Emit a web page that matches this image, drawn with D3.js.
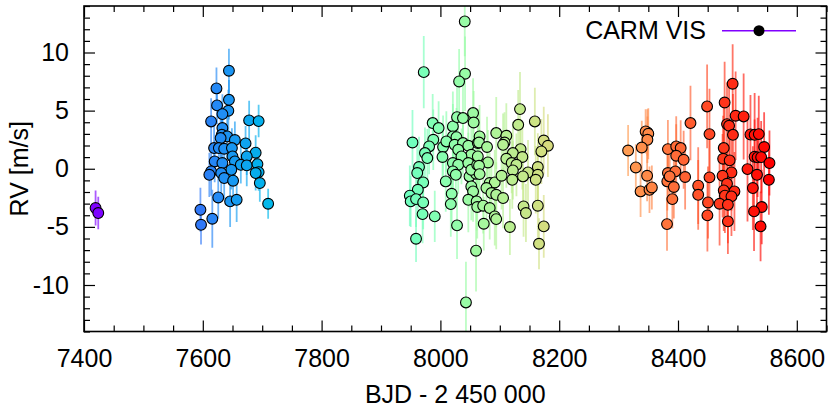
<!DOCTYPE html>
<html>
<head>
<meta charset="utf-8">
<script src="https://cdnjs.cloudflare.com/ajax/libs/d3/7.8.5/d3.min.js"></script>
<style>
  html, body { margin: 0; padding: 0; background: #fff; }
  svg { display: block; font-family: "Liberation Sans", Arial, Helvetica, sans-serif; }
  .axis text { font-size: 25px; fill: #000; }
  .axis path { display: none; }
  .axis line { stroke: #000; stroke-width: 1.2; }
</style>
</head>
<body>
<svg></svg>
<script>
// CARMENES VIS radial velocities, one array per observing season: [BJD - 2450000, RV (m/s), error (m/s)]
const season2016a = [
    [7419.5, -3.38, 1.5], [7424, -3.81, 1.4]
];
const season2016b = [
    [7644, 8.43, 1.9], [7623, 6.91, 1.8], [7644, 5.93, 1.7], [7624, 5.45, 1.6], [7643, 4.99, 1.8],
    [7633, 4.70, 1.7], [7614, 4.07, 2.0], [7678, 4.16, 1.7], [7694, 4.10, 1.4], [7633, 3.50, 1.6],
    [7632, 2.92, 1.5], [7641, 2.78, 1.9], [7654, 2.47, 1.6], [7630, 2.64, 1.7], [7672, 2.18, 1.5],
    [7619, 1.78, 2.0], [7627, 1.78, 1.6], [7636, 1.72, 1.8], [7649, 1.78, 1.7], [7689, 1.38, 1.5],
    [7650, 1.06, 2.0], [7674, 1.06, 1.6], [7620, 0.63, 1.8], [7633, 0.49, 1.7], [7654, 0.63, 1.9],
    [7664, 0.34, 1.6], [7674, 0.29, 1.8], [7692, 0.40, 1.5], [7648, -0.09, 1.7], [7614, -0.23, 2.1],
    [7611, -0.52, 1.9], [7694, -0.29, 1.6], [7631, -0.37, 1.7], [7636, -0.80, 1.8], [7689, -0.37, 1.5],
    [7651, -1.03, 1.9], [7696, -1.23, 1.6], [7626, -2.47, 1.8], [7646, -2.81, 2.2], [7657, -2.67, 1.9],
    [7710, -3.01, 1.3], [7596, -3.53, 1.9], [7616, -4.30, 2.5], [7597, -4.82, 1.7]
];
const season2017 = [
    [8041, 12.67, 3.0], [7972, 8.31, 3.1], [8041.5, 8.17, 3.2], [8031.5, 7.51, 2.8], [7987, 3.93, 2.5],
    [7997, 3.50, 2.3], [7953, 2.26, 2.8], [7988, 2.49, 2.6], [7981, 1.92, 2.4], [7974, 1.35, 2.2],
    [7978, 0.92, 2.5], [8004.5, 1.87, 2.7], [8003.5, 1.01, 2.4], [7964, 0.15, 2.6], [7961, -0.37, 2.3],
    [7971, -1.18, 2.5], [7962, -1.81, 2.4], [7948.5, -2.32, 2.6], [7950, -2.81, 2.2], [7959, -2.61, 2.4],
    [7971, -2.90, 2.3], [7970, -3.90, 2.5], [7990.5, -4.10, 2.2], [7959, -6.02, 2.0], [8009, -1.09, 2.6],
    [8019, -2.15, 2.5], [8017.5, -3.04, 2.8], [8028, -4.87, 2.9], [8060, -7.05, 3.5], [8043, -11.5, 3.5],
    [8021, 3.64, 3.0], [8028, 4.44, 3.2], [8038, 4.36, 2.9], [8055, 4.79, 3.0], [8056, 3.98, 2.7],
    [8021, 2.78, 2.8], [8027, 2.72, 2.5], [8010, 2.35, 2.6], [8024, 2.06, 2.4], [8038, 2.21, 2.7],
    [8030, 1.63, 2.5], [8047, 1.98, 2.8], [8052, 1.20, 2.6], [8035.5, 1.06, 2.4], [8021, 0.49, 2.7],
    [8030, 0.34, 2.5], [8047, 0.49, 2.6], [8063, 2.21, 2.8], [8021, -0.23, 2.5], [8026, -0.52, 2.8],
    [8049, -0.66, 2.6], [8060, -0.43, 2.7], [8052, -1.52, 2.9], [8055, -1.95, 2.6], [8047, -2.67, 2.8],
    [8061, -2.81, 2.5], [8062, -3.29, 2.7], [8052, -0.09, 2.5], [8062, 0.34, 2.6], [8063, 1.06, 2.4],
    [8066, 2.78, 2.7], [8065, 2.26, 2.9], [8078.5, 1.87, 2.6], [8080, 0.54, 2.8], [8065, 0.26, 2.5],
    [8066, -0.46, 2.7], [8083, -1.23, 2.6], [8091.5, -1.18, 2.8], [8103, -0.60, 2.9], [8077.5, -1.66, 2.7],
    [8086, -2.09, 2.5], [8094, -2.24, 2.8], [8105.5, -2.52, 2.6], [8072, -3.18, 2.4], [8083, -3.38, 2.7],
    [8091.5, -4.10, 2.5], [8094, -4.33, 2.6], [8073, -4.73, 2.3], [8117, -5.01, 2.4], [8134, 5.13, 3.2],
    [8131, 3.78, 3.0], [8159, 4.07, 2.9], [8094, 3.07, 3.1], [8111, 2.84, 2.8], [8108, 2.26, 2.6],
    [8105.5, 2.06, 2.7], [8174, 2.43, 2.9], [8181, 1.98, 2.7], [8170, 1.49, 2.8], [8135, 1.69, 2.6],
    [8122, 1.35, 2.7], [8111, 0.86, 2.5], [8138, 1.01, 2.8], [8120, 0.49, 2.6], [8128, 0.34, 2.7],
    [8164, 0.15, 2.9], [8122, -0.14, 2.5], [8147.5, -0.32, 2.8], [8164, -0.52, 2.6], [8139, -0.66, 2.7],
    [8121, -0.95, 2.5], [8160.5, -0.95, 2.9], [8140, -3.24, 2.6], [8144, -3.81, 2.5], [8164, -3.18, 2.8],
    [8174, -4.96, 2.7], [8166, -6.45, 2.2]
];
const season2018 = [
    [8421, 3.93, 3.2], [8348.5, 3.12, 2.0], [8345.5, 3.21, 1.9], [8350, 3.01, 2.2], [8348.5, 2.49, 2.0],
    [8339, 1.83, 2.3], [8316, 1.57, 2.2], [8383, 1.69, 2.5], [8397, 1.92, 2.6], [8404.5, 1.78, 2.4],
    [8397, 1.12, 2.7], [8409.5, 0.77, 2.5], [8329, 0.11, 2.0], [8348, -0.60, 2.2], [8383, -0.37, 2.6],
    [8395.5, -0.23, 2.4], [8412, -0.71, 2.8], [8382, -1.09, 2.5], [8386, -0.66, 2.3], [8337, -1.95, 2.2],
    [8352, -1.81, 2.0], [8356, -1.61, 1.9], [8393, -1.57, 2.7], [8390.5, -2.61, 2.5], [8381.5, -4.76, 2.3],
    [8492, 7.31, 3.4], [8449, 5.36, 3.6], [8478.5, 5.70, 3.5], [8497, 4.56, 3.8], [8510.5, 4.50, 3.7],
    [8482.5, 3.84, 3.6], [8486, 3.70, 3.3], [8492.5, 2.92, 3.5], [8453, 2.98, 3.9], [8522, 2.95, 3.4],
    [8529, 2.92, 3.6], [8536, 2.98, 3.3], [8545, 1.87, 3.0], [8477, 1.78, 3.5], [8529, 1.03, 3.2],
    [8534, 0.98, 3.4], [8540, 1.00, 3.1], [8476, 0.86, 3.7], [8487, 0.72, 3.5], [8554, 0.49, 2.8],
    [8517, -0.03, 4.5], [8490, -0.32, 3.3], [8533, -0.52, 3.5], [8475, -0.60, 3.6], [8453, -0.74, 3.4],
    [8553, -0.95, 3.0], [8482.5, -1.29, 3.2], [8434, -1.46, 3.3], [8495, -1.95, 3.4], [8526, -1.66, 3.6],
    [8477, -1.86, 3.5], [8434, -2.24, 3.0], [8479, -2.32, 3.2], [8490, -2.38, 3.4], [8450.5, -2.90, 3.1],
    [8470, -3.01, 3.6], [8484, -3.10, 3.3], [8541, -3.29, 3.2], [8528, -3.67, 3.4], [8449.5, -4.01, 3.1],
    [8484, -4.53, 2.8], [8539, -4.96, 3.0]
];

const xMajorTicks = [7400, 7600, 7800, 8000, 8200, 8400, 8600];
const yMajorTicks = [-10, -5, 0, 5, 10];
const legendLabel = 'CARM VIS';

(() => {
    const W = 830, H = 414;
    const margin = { top: 6, right: 3.5, bottom: 82.5, left: 84 };
    const width = W - margin.left - margin.right;
    const height = H - margin.top - margin.bottom;

    const svg = d3.select('svg').attr('width', W).attr('height', H);
    const g = svg.append('g').attr('transform', `translate(${margin.left}, ${margin.top})`);

    const x = d3.scaleLinear().domain([7400, 8650]).range([0, width]);
    const y = d3.scaleLinear().domain([-14, 14]).range([height, 0]);

    const data = [].concat(season2016a, season2016b, season2017, season2018)
        .map(d => ({ t: d[0], rv: d[1], err: d[2] }));

    // gnuplot rainbow palette (rgbformulae 33,13,10) over time
    const tExt = d3.extent(data, d => d.t);
    const frac = d3.scaleLinear().domain(tExt).range([0, 1]).clamp(true);
    const clip = v => Math.max(0, Math.min(1, v));
    function palette(f) {
        const r = clip(Math.abs(2 * f - 0.5));
        const gg = clip(Math.sin(Math.PI * f));
        const b = clip(Math.cos(Math.PI * f / 2));
        return d3.rgb(r * 255, gg * 255, b * 255).formatHex();
    }

    // plain hyphen for negative numbers, like the original
    const fmt = d => String(d);

    // axes: ticks inward on all four sides
    const xMinor = d3.range(7400, 8651, 50).filter(v => !xMajorTicks.includes(v));
    const yMinor = d3.range(-14, 15, 1).filter(v => !yMajorTicks.includes(v));

    g.append('g').attr('class', 'axis')
        .attr('transform', `translate(0, ${height})`)
        .call(d3.axisBottom(x).tickValues(xMajorTicks).tickSize(-11).tickPadding(17.5).tickFormat(fmt));
    g.append('g').attr('class', 'axis')
        .attr('transform', `translate(0, ${height})`)
        .call(d3.axisBottom(x).tickValues(xMinor).tickSize(-6).tickFormat(''));
    g.append('g').attr('class', 'axis')
        .call(d3.axisTop(x).tickValues(xMajorTicks).tickSize(-11).tickFormat(''));
    g.append('g').attr('class', 'axis')
        .call(d3.axisTop(x).tickValues(xMinor).tickSize(-6).tickFormat(''));

    g.append('g').attr('class', 'axis')
        .call(d3.axisLeft(y).tickValues(yMajorTicks).tickSize(-11).tickPadding(15).tickFormat(fmt));
    g.append('g').attr('class', 'axis')
        .call(d3.axisLeft(y).tickValues(yMinor).tickSize(-6).tickFormat(''));
    g.append('g').attr('class', 'axis')
        .attr('transform', `translate(${width}, 0)`)
        .call(d3.axisRight(y).tickValues(yMajorTicks).tickSize(-11).tickFormat(''));
    g.append('g').attr('class', 'axis')
        .attr('transform', `translate(${width}, 0)`)
        .call(d3.axisRight(y).tickValues(yMinor).tickSize(-6).tickFormat(''));

    // clip marks to the plot frame
    svg.append('defs').append('clipPath').attr('id', 'plot-clip')
        .append('rect').attr('width', width).attr('height', height);
    const chart = g.append('g').attr('clip-path', 'url(#plot-clip)');

    // error bars
    chart.append('g').selectAll('line')
        .data(data)
        .enter().append('line')
        .attr('x1', d => x(d.t))
        .attr('x2', d => x(d.t))
        .attr('y1', d => y(d.rv - d.err))
        .attr('y2', d => y(d.rv + d.err))
        .attr('stroke', d => palette(frac(d.t)))
        .attr('stroke-opacity', 0.65)
        .attr('stroke-width', 1.8);

    // points
    chart.append('g').selectAll('circle')
        .data(data)
        .enter().append('circle')
        .attr('cx', d => x(d.t))
        .attr('cy', d => y(d.rv))
        .attr('r', 5.4)
        .attr('fill', d => palette(frac(d.t)))
        .attr('stroke', '#000')
        .attr('stroke-width', 1.1);

    // frame
    g.append('rect')
        .attr('width', width).attr('height', height)
        .attr('fill', 'none').attr('stroke', '#000').attr('stroke-width', 1.6);

    // axis labels
    svg.append('text')
        .attr('x', margin.left + width / 2).attr('y', 403)
        .attr('text-anchor', 'middle').attr('font-size', 25)
        .text('BJD - 2 450 000');
    svg.append('text')
        .attr('transform', `translate(28, ${margin.top + height / 2}) rotate(-90)`)
        .attr('text-anchor', 'middle').attr('font-size', 25)
        .text('RV [m/s]');

    // legend
    const legend = svg.append('g').attr('class', 'legend');
    legend.append('text')
        .attr('x', 706).attr('y', 39.3)
        .attr('text-anchor', 'end').attr('font-size', 25)
        .text(legendLabel);
    legend.append('line')
        .attr('x1', 722).attr('x2', 796).attr('y1', 30.7).attr('y2', 30.7)
        .attr('stroke', palette(0)).attr('stroke-width', 1.5);
    legend.append('circle')
        .attr('cx', 759).attr('cy', 30.7).attr('r', 5.5).attr('fill', '#000');
})()
</script>
</body>
</html>
